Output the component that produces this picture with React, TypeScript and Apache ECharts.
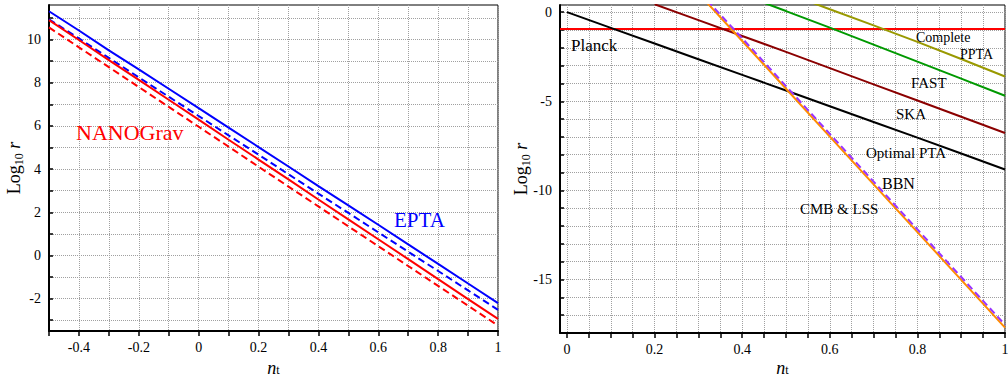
import React, { useEffect, useRef } from "react";
import * as echarts from "echarts";

// ---------- Left panel data ----------
const leftNt = [-0.5, -0.4, -0.3, -0.2, -0.1, 0, 0.1, 0.2, 0.3, 0.4, 0.5, 0.6, 0.7, 0.8, 0.9, 1.0];
const eptaSolid = [11.31, 10.42, 9.5, 8.62, 7.72, 6.82, 5.92, 5.02, 4.12, 3.21, 2.32, 1.42, 0.51, -0.39, -1.3, -2.21];
const eptaDashed = [10.94, 10.05, 9.15, 8.25, 7.35, 6.46, 5.56, 4.67, 3.76, 2.86, 1.97, 1.07, 0.17, -0.72, -1.62, -2.52];
const nanoSolid = [10.9, 9.98, 9.05, 8.13, 7.21, 6.29, 5.36, 4.44, 3.52, 2.59, 1.67, 0.75, -0.17, -1.1, -2.02, -2.94];
const nanoDashed = [10.56, 9.64, 8.72, 7.8, 6.88, 5.96, 5.04, 4.11, 3.19, 2.27, 1.35, 0.43, -0.49, -1.41, -2.33, -3.25];

const leftXLabels = [-0.4, -0.2, 0, 0.2, 0.4, 0.6, 0.8, 1];
const leftXTicks = [-0.5, -0.4, -0.3, -0.2, -0.1, 0, 0.1, 0.2, 0.3, 0.4, 0.5, 0.6, 0.7, 0.8, 0.9, 1];
const leftYLabels = [-2, 0, 2, 4, 6, 8, 10];
const leftYTicks = [-3, -2, -1, 0, 1, 2, 3, 4, 5, 6, 7, 8, 9, 10, 11];

// ---------- Right panel data ----------
const planckNt = [-0.016, 1.0];
const planckR = [-0.95, -0.95];
const optimalNt = [0, 0.1, 0.2, 0.3, 0.4, 0.5, 0.6, 0.7, 0.8, 0.9, 1.0];
const optimalR = [0, -0.88, -1.76, -2.64, -3.52, -4.4, -5.28, -6.16, -7.04, -7.93, -8.83];
const skaNt = [0.2, 0.3, 0.4, 0.5, 0.6, 0.7, 0.8, 0.9, 1.0];
const skaR = [0.44, -0.45, -1.34, -2.23, -3.14, -4.05, -4.96, -5.87, -6.78];
const fastNt = [0.45, 0.5, 0.6, 0.7, 0.8, 0.9, 1.0];
const fastR = [0.52, 0.06, -0.87, -1.82, -2.78, -3.73, -4.69];
const pptaNt = [0.55, 0.6, 0.7, 0.8, 0.9, 1.0];
const pptaR = [0.62, 0.16, -0.74, -1.67, -2.63, -3.61];
const cmbNt = [0.32, 0.4, 0.5, 0.6, 0.7, 0.8, 0.9, 1.0];
const cmbR = [0.52, -1.62, -4.3, -6.98, -9.66, -12.34, -15.02, -17.7];
const bbnNt = [0.32, 0.4, 0.5, 0.6, 0.7, 0.8, 0.9, 1.0];
const bbnR = [0.66, -1.47, -4.15, -6.83, -9.51, -12.19, -14.86, -17.54];

const rightXLabels = [0, 0.2, 0.4, 0.6, 0.8, 1];
const rightXTicks = [0, 0.05, 0.1, 0.15, 0.2, 0.25, 0.3, 0.35, 0.4, 0.45, 0.5, 0.55, 0.6, 0.65, 0.7, 0.75, 0.8, 0.85, 0.9, 0.95, 1];
const rightYLabels = [-15, -10, -5, 0];
const rightYTicks = [-17, -16, -15, -14, -13, -12, -11, -10, -9, -8, -7, -6, -5, -4, -3, -2, -1, 0];

const FONT = "Liberation Serif";

const zip = (xs: number[], ys: number[]) => xs.map((x, i) => [x, ys[i]]);

const yNameRich = {
  a: { fontFamily: FONT, fontSize: 18, color: "#000", lineHeight: 22 },
  i: { fontFamily: FONT, fontSize: 18, fontStyle: "italic", color: "#000", lineHeight: 22 },
  s: { fontFamily: FONT, fontSize: 12, color: "#000", lineHeight: 12, verticalAlign: "bottom" },
};

const xNameRich = {
  i: { fontFamily: FONT, fontSize: 18, fontStyle: "italic", color: "#000", lineHeight: 17 },
  s: { fontFamily: FONT, fontSize: 12, color: "#000", lineHeight: 11, verticalAlign: "bottom" },
};

const gridLine = { show: true, lineStyle: { color: "#a0a0a0", type: "dotted", width: 1 } };

function xAxis(gridIndex: number, min: number, max: number, labels: number[], ticks: number[], nameGap: number) {
  return {
    type: "value",
    gridIndex,
    min,
    max,
    axisLine: { show: true, onZero: false, lineStyle: { color: "#000", width: 2 } },
    axisTick: { show: true, inside: false, length: 5, customValues: ticks, lineStyle: { color: "#000", width: 1.5 } },
    axisLabel: {
      customValues: labels,
      color: "#000",
      fontFamily: FONT,
      fontSize: 14,
      margin: 9,
      formatter: (v: number) => String(+v.toFixed(2)),
    },
    splitLine: gridLine,
    name: "{i|n}{s|t}",
    nameLocation: "middle",
    nameGap,
    nameMoveOverlap: false,
    nameTextStyle: { rich: xNameRich },
  };
}

function yAxis(gridIndex: number, min: number, max: number, labels: number[], ticks: number[], nameGap: number) {
  return {
    type: "value",
    gridIndex,
    min,
    max,
    axisLine: { show: true, onZero: false, lineStyle: { color: "#000", width: 2 } },
    axisTick: { show: true, inside: true, length: 4, customValues: ticks, lineStyle: { color: "#000", width: 1.5 } },
    axisLabel: {
      customValues: labels,
      color: "#000",
      fontFamily: FONT,
      fontSize: 14,
      margin: 8,
      formatter: (v: number) => String(+v.toFixed(2)),
    },
    splitLine: gridLine,
    name: "{a|Log}{s|10}{a| }{i|r}",
    nameLocation: "middle",
    nameGap,
    nameRotate: 90,
    nameMoveOverlap: false,
    nameTextStyle: { rich: yNameRich },
  };
}

function line(name: string, xi: number, data: number[][], color: string, dashed: boolean, z = 2) {
  return {
    name,
    type: "line",
    xAxisIndex: xi,
    yAxisIndex: xi,
    data,
    showSymbol: false,
    symbol: "none",
    clip: true,
    z,
    lineStyle: { color, width: 2, type: dashed ? [7, 4] : "solid" },
  };
}

function label(text: string, x: number, y: number, size: number, color = "#000") {
  return {
    type: "text",
    x,
    y,
    z: 100,
    style: {
      text,
      fill: color,
      fontFamily: FONT,
      fontSize: size,
      align: "left",
      verticalAlign: "middle",
    },
  };
}

export default function App() {
  const ref = useRef<HTMLDivElement>(null);
  useEffect(() => {
    if (!ref.current) return;
    const chart = echarts.init(ref.current, null, { renderer: "svg" });
    chart.setOption({
      animation: false,
      backgroundColor: "#fff",
      grid: [
        { left: 49, top: 5, width: 449, height: 326, show: true, borderColor: "#000", borderWidth: 1, backgroundColor: "transparent", outerBoundsMode: "none", containLabel: false },
        { left: 560, top: 5, width: 445, height: 328, show: true, borderColor: "#000", borderWidth: 1, backgroundColor: "transparent", outerBoundsMode: "none", containLabel: false },
      ],
      xAxis: [
        xAxis(0, -0.5, 1, leftXLabels, leftXTicks, 28),
        xAxis(1, -0.016, 1, rightXLabels, rightXTicks, 26),
      ],
      yAxis: [
        yAxis(0, -3.5, 11.6, leftYLabels, leftYTicks, 24),
        yAxis(1, -18, 0.4, rightYLabels, rightYTicks, 28),
      ],
      series: [
        line("EPTA solid", 0, zip(leftNt, eptaSolid), "#0000ff", false),
        line("EPTA dashed", 0, zip(leftNt, eptaDashed), "#0000ff", true),
        line("NANOGrav solid", 0, zip(leftNt, nanoSolid), "#ff0000", false),
        line("NANOGrav dashed", 0, zip(leftNt, nanoDashed), "#ff0000", true),
        line("Planck", 1, zip(planckNt, planckR), "#ff0000", false),
        line("Optimal PTA", 1, zip(optimalNt, optimalR), "#000000", false),
        line("SKA", 1, zip(skaNt, skaR), "#8b0000", false),
        line("FAST", 1, zip(fastNt, fastR), "#009900", false),
        line("Complete PPTA", 1, zip(pptaNt, pptaR), "#999900", false),
        line("CMB & LSS", 1, zip(cmbNt, cmbR), "#ff8c00", false, 3),
        line("BBN", 1, zip(bbnNt, bbnR), "#9933ff", true, 4),
      ],
      graphic: [
        label("NANOGrav", 76, 132, 22, "#ff0000"),
        label("EPTA", 394, 220, 21, "#0000ff"),
        label("Planck", 571, 45, 17),
        label("Complete", 916, 37, 14),
        label("PPTA", 960, 54, 14),
        label("FAST", 911, 83, 15),
        label("SKA", 896, 114, 15),
        label("Optimal PTA", 866, 153, 15),
        label("BBN", 882, 183, 16),
        label("CMB & LSS", 800, 209, 15),
      ],
    });
    return () => chart.dispose();
  }, []);
  return (
    <div
      ref={ref}
      style={{ position: "fixed", left: 0, top: 0, width: 1008, height: 378, background: "#fff" }}
    />
  );
}
